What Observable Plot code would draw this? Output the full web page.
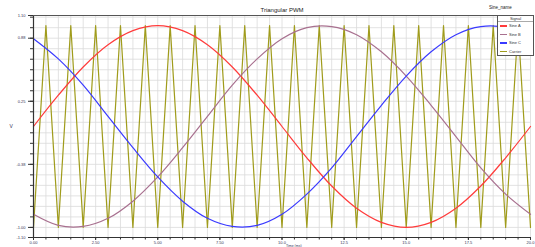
<!DOCTYPE html>
<html><head><meta charset="utf-8">
<script src="https://cdn.jsdelivr.net/npm/d3@7"></script>
<script src="https://cdn.jsdelivr.net/npm/@observablehq/plot@0.6"></script>
<style>
body{margin:0;background:#fff;}
#wrap{position:relative;width:535px;height:247px;font-family:"Liberation Sans",Arial,sans-serif;overflow:hidden;}
#legend{position:absolute;left:497px;top:15px;width:37px;height:41px;border:1px solid #555;background:#fff;font-size:4px;color:#333;box-sizing:border-box;}
#legend .hd{text-align:center;font-size:4px;line-height:5px;border-bottom:1px solid #aaa;}
#legend .row{position:relative;height:8.5px;}
#legend .sw{position:absolute;left:2px;top:3px;width:7px;height:1.5px;}
#legend .lb{position:absolute;left:11px;top:1px;font-size:4px;white-space:nowrap;}
#ltitle{position:absolute;left:489px;top:5px;font-size:4.5px;color:#222;}
</style></head><body><div id="wrap"></div>
<script>
// ---- data ----
const timeMs = [0,1,2,3,4,5,6,7,8,9,10,11,12,13,14,15,16,17,18,19,20];
const sineA = [0,0.31,0.59,0.81,0.95,1.00,0.95,0.81,0.59,0.31,0,-0.31,-0.59,-0.81,-0.95,-1.00,-0.95,-0.81,-0.59,-0.31,0];
const sineB = [-0.87,-0.98,-0.99,-0.91,-0.74,-0.50,-0.21,0.10,0.41,0.67,0.87,0.98,0.99,0.91,0.74,0.50,0.21,-0.10,-0.41,-0.67,-0.87];
const sineC = [0.87,0.67,0.41,0.10,-0.21,-0.50,-0.74,-0.91,-0.99,-0.98,-0.87,-0.67,-0.41,-0.10,0.21,0.50,0.74,0.91,0.99,0.98,0.87];
const carrierTime = [0,0.5,1,1.5,2,2.5,3,3.5,4,4.5,5,5.5,6,6.5,7,7.5,8,8.5,9,9.5,10,10.5,11,11.5,12,12.5,13,13.5,14,14.5,15,15.5,16,16.5,17,17.5,18,18.5,19,19.5,20];
const carrierValue = [-1,1,-1,1,-1,1,-1,1,-1,1,-1,1,-1,1,-1,1,-1,1,-1,1,-1,1,-1,1,-1,1,-1,1,-1,1,-1,1,-1,1,-1,1,-1,1,-1,1,-1];
const xTicks = [0,2.5,5,7.5,10,12.5,15,17.5,20];
const xTickLabels = ["0.00","2.50","5.00","7.50","10.0","12.5","15.0","17.5","20.0"];
const yTicks = [-1.1,-1.0,-0.375,0.25,0.875,1.1];
const yTickLabels = ["-1.10","-1.00","-0.38","0.25","0.88","1.10"];
const seriesNames = ["Sine A","Sine B","Sine C","Carrier"];
const titleText = "Triangular PWM";
const legendTitle = "Sine_name";
const legendHeader = "Signal";
const xLabel = "Time (ms)";
const yLabel = "V";

// ---- styles ----
const colors = ["#ff3b3b","#a8708f","#3a3aff","#a09c1c"];

const sines = [sineA, sineB, sineC];
const lineData = [];
sines.forEach((arr, k) => arr.forEach((v, i) => lineData.push({t: timeMs[i], v, s: seriesNames[k]})));
const carrier = carrierTime.map((t, i) => ({t, v: carrierValue[i]}));

const minorX = d3.range(0, 20.001, 0.5);
const minorY = d3.range(-1.0, 1.1001, 0.625/6);

const chart = Plot.plot({
  width: 535, height: 247,
  marginLeft: 33, marginRight: 5, marginTop: 15, marginBottom: 10,
  style: {fontSize: "5px", fontFamily: "'Liberation Sans', Arial, sans-serif", background: "#fff", color: "#333"},
  x: {domain: [0, 20]},
  y: {domain: [-1.1, 1.1]},
  marks: [
    Plot.gridY(minorY, {stroke: "#dadada", strokeOpacity: 1, strokeWidth: 0.8}),
    Plot.gridX(minorX, {stroke: "#dadada", strokeOpacity: 1, strokeWidth: 0.8}),
    Plot.line(carrier, {x: "t", y: "v", stroke: colors[3], strokeWidth: 1.2}),
    Plot.line(lineData, {x: "t", y: "v", z: "s", stroke: d => colors[seriesNames.indexOf(d.s)], strokeWidth: 1.2, curve: "catmull-rom"}),
    Plot.ruleX([0], {stroke: "#333", strokeWidth: 1.2}),
    Plot.ruleY([-1.1], {stroke: "#333", strokeWidth: 1.2}),
    Plot.ruleY([1.1], {stroke: "#555", strokeWidth: 1}),
    Plot.axisY(minorY, {tickSize: 3, text: null, label: null, stroke: "#333"}),
    Plot.axisY(yTicks, {tickSize: 5, tickPadding: 3, tickFormat: d => yTickLabels[yTicks.indexOf(d)], label: null, fontSize: 4, fill: "#335", stroke: "#333"}),
    Plot.axisX(minorX, {tickSize: 2.5, text: null, label: null, stroke: "#333"}),
    Plot.axisX(xTicks, {tickSize: 3, tickPadding: 0.5, tickFormat: d => xTickLabels[xTicks.indexOf(d)], label: null, fontSize: 4, fill: "#335", stroke: "#333"}),
    Plot.text([titleText], {frameAnchor: "top", dy: -8, fontSize: 6, fill: "#222"}),
    Plot.text([yLabel], {frameAnchor: "left", dx: -24, fontSize: 5, fill: "#335"}),
    Plot.text([xLabel], {frameAnchor: "bottom", dy: 9, dx: 4, fontSize: 3.5, fill: "#335", textAnchor: "start"})
  ]
});
const wrap = document.getElementById("wrap");
wrap.appendChild(chart);

const lt = document.createElement("div");
lt.id = "ltitle"; lt.textContent = legendTitle; wrap.appendChild(lt);
const lg = document.createElement("div");
lg.id = "legend";
const hd = document.createElement("div"); hd.className = "hd"; hd.textContent = legendHeader; lg.appendChild(hd);
seriesNames.forEach((n, i) => {
  const r = document.createElement("div"); r.className = "row";
  const sw = document.createElement("div"); sw.className = "sw"; sw.style.background = colors[i];
  const lb = document.createElement("div"); lb.className = "lb"; lb.textContent = n;
  r.appendChild(sw); r.appendChild(lb); lg.appendChild(r);
});
wrap.appendChild(lg);
</script></body></html>
